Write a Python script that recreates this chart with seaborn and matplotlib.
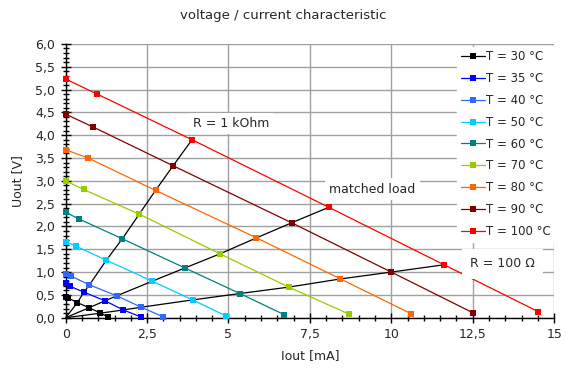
import pandas as pd
import matplotlib
matplotlib.use("Agg")
import matplotlib.pyplot as plt
from matplotlib.ticker import MultipleLocator, FuncFormatter
import seaborn as sns

# Iout [mA] / Uout [V] per temperature; points: open, ~5k, 1k, matched, 100 Ohm, short
i_30 = [0, 0.08, 0.36, 0.72, 1.07, 1.29]
u_30 = [0.45, 0.43, 0.33, 0.22, 0.10, 0.02]
i_35 = [0, 0.13, 0.56, 1.21, 1.77, 2.30]
u_35 = [0.75, 0.69, 0.56, 0.37, 0.17, 0.02]
i_40 = [0, 0.17, 0.73, 1.57, 2.32, 2.99]
u_40 = [0.96, 0.91, 0.72, 0.48, 0.23, 0.02]
i_50 = [0, 0.31, 1.25, 2.66, 3.90, 4.92]
u_50 = [1.67, 1.57, 1.26, 0.80, 0.39, 0.04]
i_60 = [0, 0.42, 1.74, 3.66, 5.35, 6.70]
u_60 = [2.31, 2.16, 1.73, 1.09, 0.53, 0.07]
i_70 = [0, 0.55, 2.26, 4.74, 6.85, 8.70]
u_70 = [3.00, 2.81, 2.27, 1.40, 0.67, 0.08]
i_80 = [0, 0.69, 2.76, 5.86, 8.44, 10.6]
u_80 = [3.68, 3.50, 2.79, 1.75, 0.85, 0.09]
i_90 = [0, 0.84, 3.30, 6.94, 10.0, 12.5]
u_90 = [4.46, 4.18, 3.33, 2.08, 1.00, 0.11]
i_100 = [0, 0.97, 3.88, 8.08, 11.62, 14.52]
u_100 = [5.23, 4.90, 3.90, 2.42, 1.16, 0.13]

temps = [30, 35, 40, 50, 60, 70, 80, 90, 100]
currents = [i_30, i_35, i_40, i_50, i_60, i_70, i_80, i_90, i_100]
voltages = [u_30, u_35, u_40, u_50, u_60, u_70, u_80, u_90, u_100]
colors = ["#000000", "#0000FF", "#3366FF", "#00CCFF", "#008080",
          "#99CC00", "#FF6600", "#800000", "#FF0000"]
labels = [f"T = {t} °C" for t in temps]

rows = []
for lab, ii, uu in zip(labels, currents, voltages):
    for n, (a, b) in enumerate(zip(ii, uu)):
        rows.append({"T": lab, "I": a, "U": b, "n": n})
df = pd.DataFrame(rows)

# load lines (1 kOhm, matched, 100 Ohm) through the measured points
load_idx = {"1k": 2, "matched": 3, "100": 4}
load_rows = []
for name, k in load_idx.items():
    load_rows.append({"load": name, "I": 0.0, "U": 0.0, "n": -1})
    for j, (ii, uu) in enumerate(zip(currents, voltages)):
        load_rows.append({"load": name, "I": ii[k], "U": uu[k], "n": j})
loads = pd.DataFrame(load_rows)

sns.set_style("white")
plt.rcParams["font.family"] = ["DejaVu Sans"]

fig = plt.figure(figsize=(5.66, 3.69), dpi=100)
ax = fig.add_axes([0.116, 0.139, 0.863, 0.742])

sns.lineplot(data=loads, x="I", y="U", units="load", estimator=None, sort=False,
             color="black", linewidth=0.9, legend=False, ax=ax, zorder=2)
sns.lineplot(data=df, x="I", y="U", hue="T", palette=colors, hue_order=labels,
             estimator=None, sort=False, marker="s", markersize=5,
             markeredgewidth=0, linewidth=0.9, ax=ax, zorder=3)
for ln in ax.lines:
    ln.set_clip_on(False)

ax.set_xlim(0, 15)
ax.set_ylim(0, 6)
ax.xaxis.set_major_locator(MultipleLocator(2.5))
ax.xaxis.set_minor_locator(MultipleLocator(0.5))
ax.yaxis.set_major_locator(MultipleLocator(0.5))
ax.yaxis.set_minor_locator(MultipleLocator(0.1))
ax.xaxis.set_major_formatter(FuncFormatter(lambda v, p: f"{v:g}".replace(".", ",")))
ax.yaxis.set_major_formatter(FuncFormatter(lambda v, p: f"{v:.1f}".replace(".", ",")))
ax.grid(True, which="major", color="#a0a0a0", linewidth=1.0)
ax.set_axisbelow(True)
for s in ["top", "right"]:
    ax.spines[s].set_visible(False)
for s in ["left", "bottom"]:
    ax.spines[s].set_color("black")
    ax.spines[s].set_linewidth(1.0)
ax.tick_params(which="major", direction="inout", length=7, width=1, color="black",
               labelsize=9, pad=4)
ax.tick_params(which="minor", direction="inout", length=5, width=1, color="black")
ax.tick_params(axis="both", which="both", bottom=True, left=True)

ax.set_xlabel("Iout [mA]", fontsize=9, labelpad=6)
ax.set_ylabel("Uout [V]", fontsize=9, labelpad=8)
fig.suptitle("voltage / current characteristic", fontsize=9.5, y=0.975)

box = dict(facecolor="white", edgecolor="none", pad=3)
ax.text(3.92, 4.25, "R = 1 kOhm", fontsize=9, va="center", bbox=box, zorder=4)
ax.text(8.1, 2.82, "matched load", fontsize=9, va="center", bbox=box, zorder=4)
ax.text(12.42, 1.18, "R = 100 Ω", fontsize=9, va="center",
        bbox=dict(facecolor="white", edgecolor="none", pad=6), zorder=4)

handles, labs = ax.get_legend_handles_labels()
leg = ax.legend(handles, labs, loc="upper right", bbox_to_anchor=(1.0, 0.99),
                fontsize=8.5, frameon=True, fancybox=False, framealpha=1,
                edgecolor="white", borderaxespad=0, handlelength=2.0,
                handletextpad=0.1, labelspacing=0.75, borderpad=0.3)
leg.set_zorder(5)

fig.savefig("out.png", dpi=100)
